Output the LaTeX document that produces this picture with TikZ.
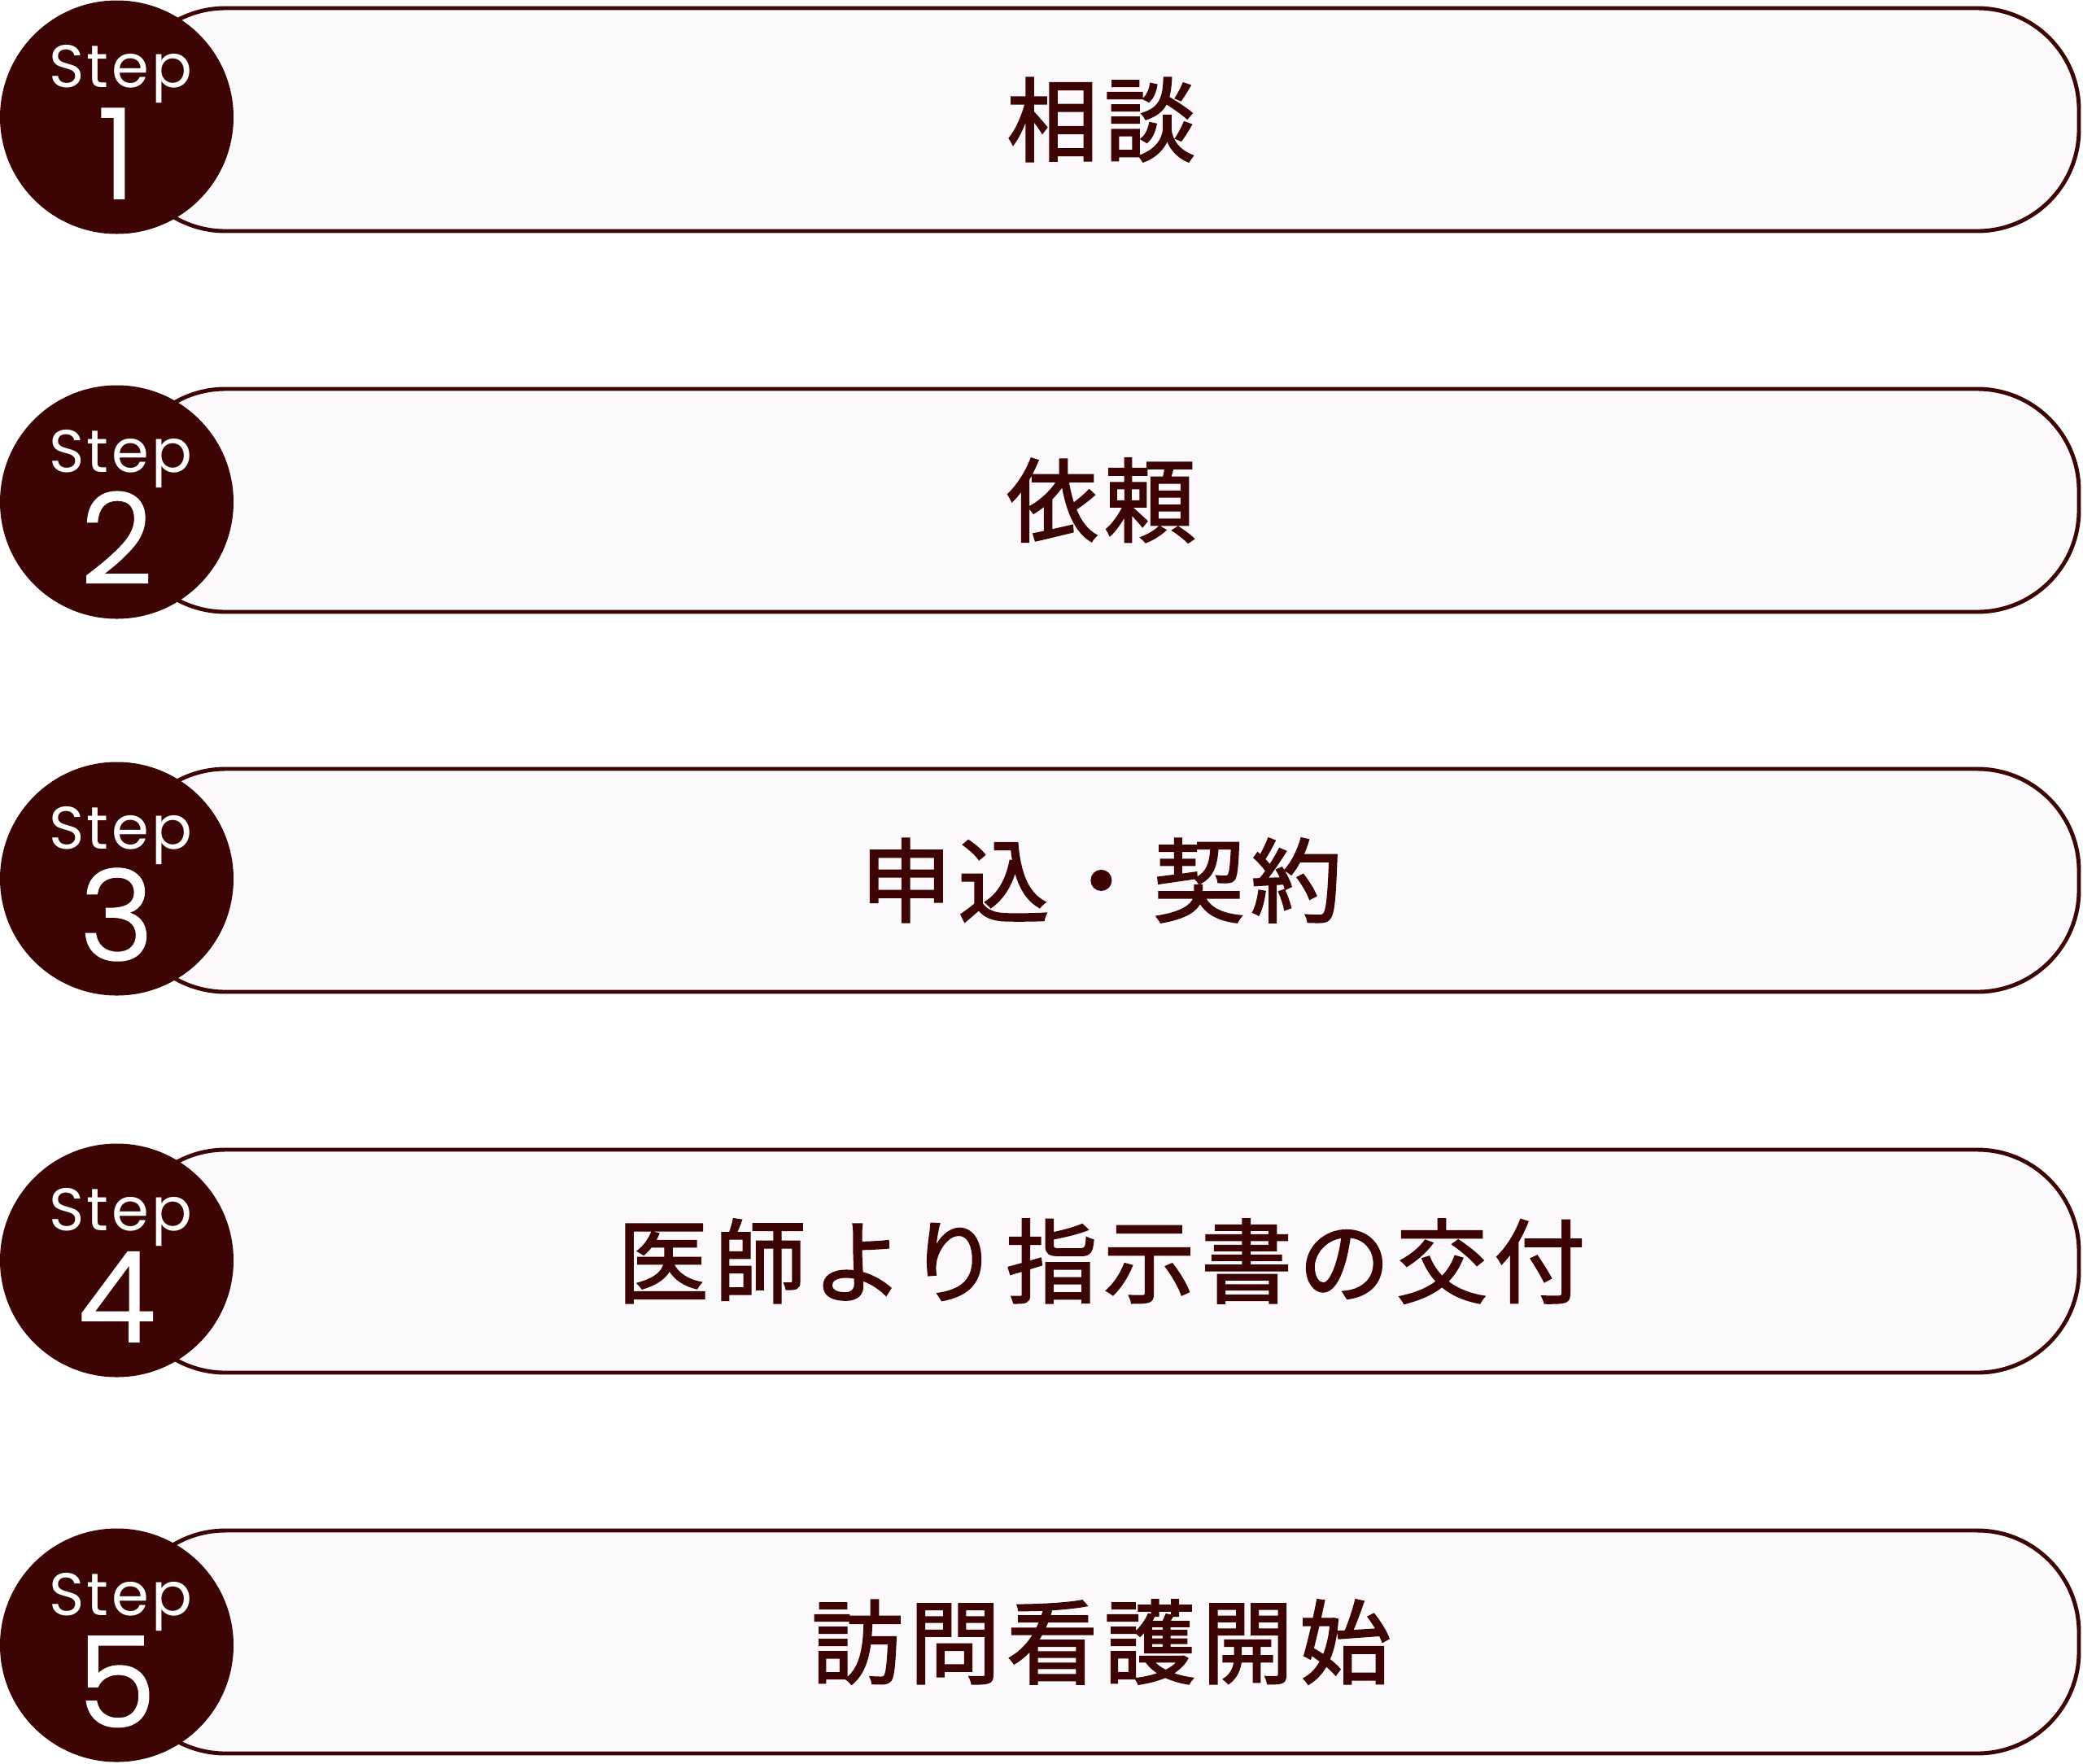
\documentclass[tikz,border=0pt]{standalone}
\usepackage{fontspec}
\newfontfamily\jpfont[LetterSpace=7, FakeBold=2]{Noto Sans CJK JP}
\newfontfamily\stepfont[LetterSpace=5]{Poppins}
\newfontfamily\numfont[FakeBold=2]{Poppins Light}
\definecolor{stepbrown}{HTML}{3D0404}
\definecolor{boxfill}{HTML}{FCF9FC}

\begin{document}
\begin{tikzpicture}[y=-1cm,
    stepbox/.style={draw=stepbrown, fill=boxfill, line width=1.4pt, rounded corners=1.25cm,
        minimum width=24.03cm, minimum height=2.74cm, inner sep=0pt,
        text=stepbrown, font=\jpfont\fontsize{31.9}{34}\selectfont},
    stepdot/.style={circle, fill=stepbrown, minimum size=2.87cm, inner sep=0pt},
    steptag/.style={text=white, inner sep=0pt, text height=14.8pt, text depth=0pt,
        font=\stepfont\fontsize{21}{24}\selectfont},
    stepnum/.style={text=white, inner sep=0pt, text height=30.4pt, text depth=0pt,
        font=\numfont\fontsize{43.5}{48}\selectfont}]

    \useasboundingbox (0, 0) rectangle (25.6, 21.67);

    % Declare the boxes
    \node[stepbox] at (13.535, 1.47) (box1) {相談};
    \node[stepbox] at (13.535, 6.15) (box2) {依頼};
    \node[stepbox] at (13.535, 10.82) (box3) {申込・契約};
    \node[stepbox] at (13.535, 15.50) (box4) {医師より指示書の交付};
    \node[stepbox] at (13.535, 20.18) (box5) {訪問看護開始};

    % Declare the step circles
    \node[stepdot] at (1.435, 1.44) (dot1) {};
    \node[stepdot] at (1.435, 6.17) (dot2) {};
    \node[stepdot] at (1.435, 10.80) (dot3) {};
    \node[stepdot] at (1.435, 15.49) (dot4) {};
    \node[stepdot] at (1.435, 20.22) (dot5) {};

    % Declare the step labels
    \node[steptag] at ([xshift=0.05cm, yshift=0.63cm]dot1.center) (tag1) {Step};
    \node[stepnum] at ([yshift=-0.46cm]dot1.center) (num1) {1};
    \node[steptag] at ([xshift=0.05cm, yshift=0.63cm]dot2.center) (tag2) {Step};
    \node[stepnum] at ([yshift=-0.46cm]dot2.center) (num2) {2};
    \node[steptag] at ([xshift=0.05cm, yshift=0.63cm]dot3.center) (tag3) {Step};
    \node[stepnum] at ([yshift=-0.46cm]dot3.center) (num3) {3};
    \node[steptag] at ([xshift=0.05cm, yshift=0.63cm]dot4.center) (tag4) {Step};
    \node[stepnum] at ([yshift=-0.46cm]dot4.center) (num4) {4};
    \node[steptag] at ([xshift=0.05cm, yshift=0.63cm]dot5.center) (tag5) {Step};
    \node[stepnum] at ([yshift=-0.46cm]dot5.center) (num5) {5};

\end{tikzpicture}
\end{document}
